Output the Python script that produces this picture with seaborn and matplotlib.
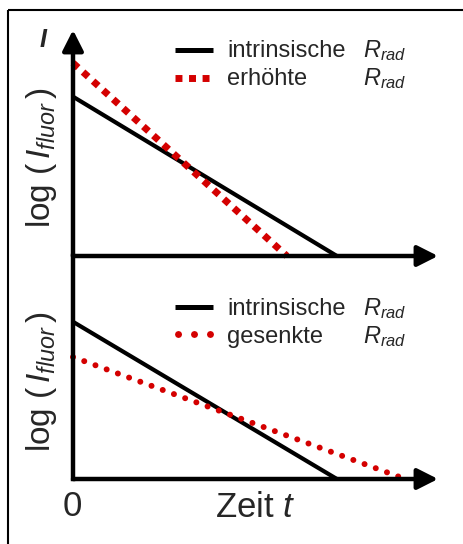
import matplotlib
matplotlib.use("Agg")
import matplotlib.pyplot as plt
import seaborn as sns
from matplotlib.lines import Line2D
from matplotlib.patches import Rectangle
from matplotlib.transforms import Affine2D

# Fluorescence decay, log intensity versus time (arbitrary units)
t_intrinsic = [0.0, 7.23]
log_intrinsic = [7.05, 0.0]
t_raised = [0.0, 5.86]
log_raised = [8.54, 0.0]
t_lowered = [0.0, 9.1]
log_lowered = [5.47, 0.0]

label_intrinsic = "intrinsische"
label_raised = "erhöhte"
label_lowered = "gesenkte"
rate_label = r"$R_{rad}$"
y_label = r"log ($\,I_{fluor}\,$)"
x_label = r"Zeit $t$"
origin_label = "0"
top_label = "I"

RED = "#d40000"
BLACK = "#000000"

sns.set_theme(style="white")
plt.rcParams["font.family"] = ["Liberation Sans", "DejaVu Sans"]
plt.rcParams["mathtext.fontset"] = "custom"
plt.rcParams["mathtext.rm"] = "Liberation Sans"
plt.rcParams["mathtext.it"] = "Liberation Sans:italic"
plt.rcParams["mathtext.bf"] = "Liberation Sans:bold"

W, H = 463, 544
fig = plt.figure(figsize=(W / 100, H / 100), dpi=100)
fig.patch.set_facecolor("white")
# pixel coordinates with the origin at the top-left corner
px = Affine2D().scale(1 / W, -1 / H).translate(0, 1) + fig.transFigure


def axes_px(left, top, right, bottom):
    return fig.add_axes([left / W, 1 - bottom / H, (right - left) / W, (bottom - top) / H])


ax_top = axes_px(73, 30, 438, 256)
ax_bot = axes_px(73, 256, 438, 479)

style_intrinsic = dict(color=BLACK, lw=3.0)
style_raised = dict(color=RED, lw=5.0)
style_lowered = dict(color=RED, lw=4.3)


def draw_series(ax, t, y, style, dashes=None, cap="butt"):
    sns.lineplot(x=t, y=y, ax=ax, legend=False, sort=False, **style)
    line = ax.lines[-1]
    line.set_clip_on(False)
    line.set_solid_capstyle("butt")
    if dashes is not None:
        line.set_dashes(dashes)
        line.set_dash_capstyle(cap)


draw_series(ax_top, t_intrinsic, log_intrinsic, style_intrinsic)
draw_series(ax_top, t_raised, log_raised, style_raised, dashes=(1.0, 0.95), cap="butt")
draw_series(ax_bot, t_intrinsic, log_intrinsic, style_intrinsic)
draw_series(ax_bot, t_lowered, log_lowered, style_lowered, dashes=(0.01, 1.99), cap="round")

arrow_kw = dict(arrowstyle="-|>,head_length=0.83,head_width=0.42", mutation_scale=15,
                lw=3.2, color=BLACK, shrinkA=0, shrinkB=0)

for ax in (ax_top, ax_bot):
    ax.set_xlim(0, 10)
    ax.set_ylim(0, 10)
    ax.axis("off")
    ax.annotate("", xy=(1, 0), xytext=(0, 0), xycoords="axes fraction",
                arrowprops=arrow_kw, annotation_clip=False)

ax_top.annotate("", xy=(0, 1), xytext=(0, 0), xycoords="axes fraction",
                arrowprops=arrow_kw, annotation_clip=False)
ax_bot.plot([0, 0], [0, 1], transform=ax_bot.transAxes, color=BLACK, lw=3.2,
            solid_capstyle="projecting", clip_on=False)

# legends
leg_font = 17


def legend_row(y_line, y_base, text, style, dashes=None, cap="butt", x0=175, x1=213):
    ln = Line2D([x0, x1], [y_line, y_line], transform=px, solid_capstyle="butt", **style)
    if dashes is not None:
        ln.set_dashes(dashes)
        ln.set_dash_capstyle(cap)
    fig.add_artist(ln)
    fig.text(227, y_base, text, transform=px, fontsize=leg_font, va="baseline", ha="left")
    fig.text(363, y_base, rate_label, transform=px, fontsize=leg_font, va="baseline", ha="left")


legend_row(50, 57, label_intrinsic, dict(color=BLACK, lw=3.6))
legend_row(78, 85, label_raised, style_raised, dashes=(1.0, 0.95), cap="butt", x0=175, x1=215)
legend_row(307, 315, label_intrinsic, dict(color=BLACK, lw=3.6))
legend_row(334, 343, label_lowered, dict(color=RED, lw=5.0), dashes=(0.01, 2.29), cap="round",
           x0=178, x1=211)

# axis labels
for yc in (158, 382):
    fig.text(41.5, yc, y_label, transform=px, fontsize=24, rotation=90,
             ha="center", va="center")
fig.text(43, 47, top_label, transform=px, fontsize=18, fontstyle="italic",
         fontweight="bold", ha="center", va="baseline")
fig.text(72.5, 516, origin_label, transform=px, fontsize=25, ha="center", va="baseline")
fig.text(255, 517, x_label, transform=px, fontsize=25, ha="center", va="baseline")

# outer frame
fig.add_artist(Rectangle((8, 10), 700, 700, transform=px, fill=False, lw=1.5, ec=BLACK))

fig.savefig("out.png", dpi=100, facecolor="white")
